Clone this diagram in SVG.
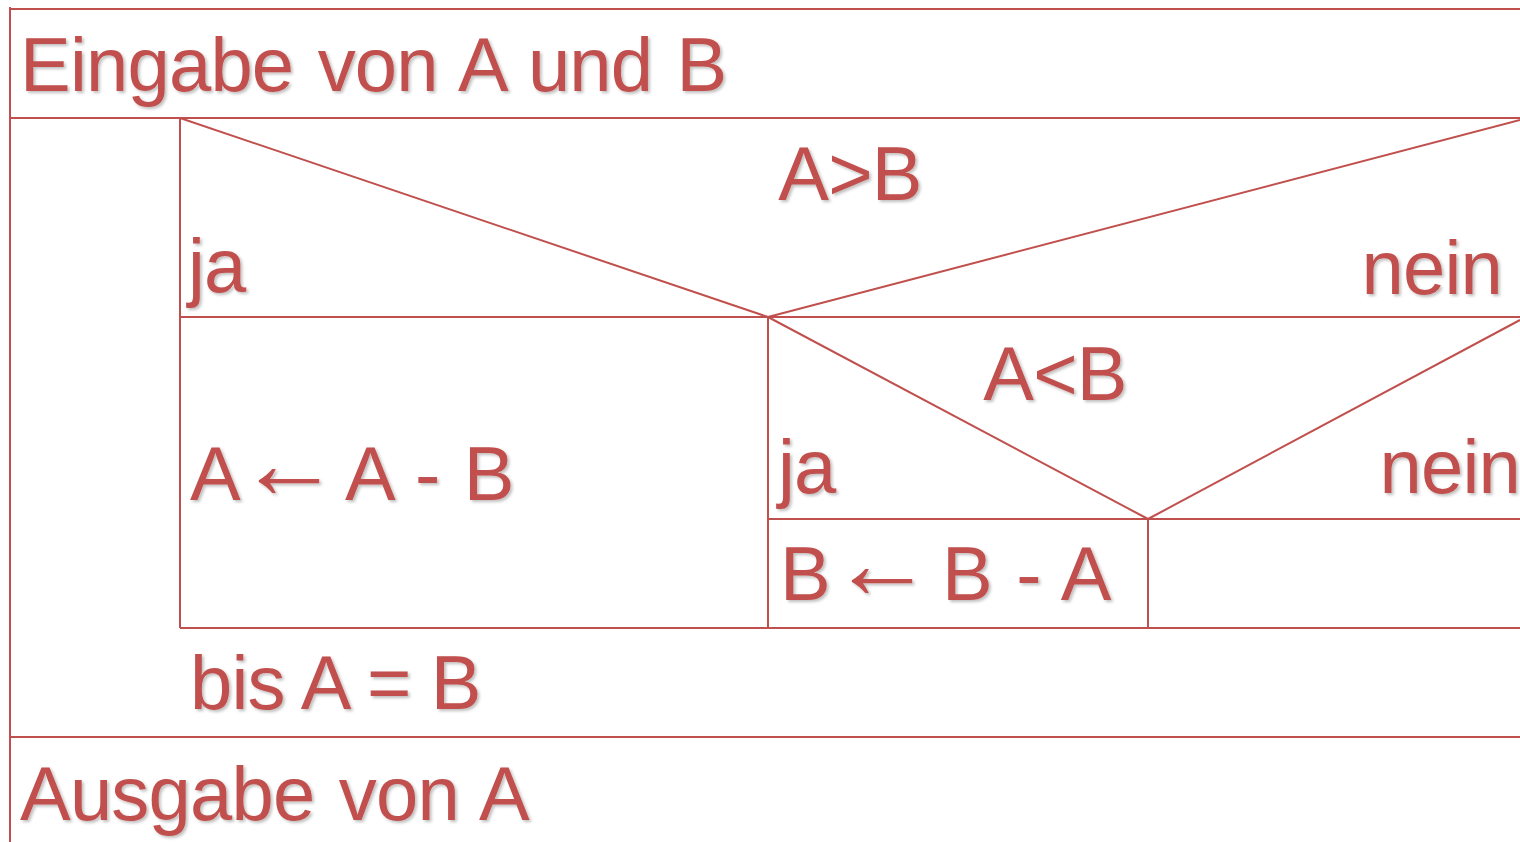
<svg xmlns="http://www.w3.org/2000/svg" width="1520" height="842" viewBox="0 0 1520 842">
<defs>
<filter id="sh" x="-5%" y="-20%" width="110%" height="140%">
<feDropShadow dx="2" dy="2" stdDeviation="1.5" flood-color="#000" flood-opacity="0.25"/>
</filter>
</defs>
<style>
.l{stroke:#C0504D;stroke-width:2;fill:none}
.t{font-family:"Liberation Sans",Arial,sans-serif;font-size:76px;fill:#C0504D;filter:url(#sh);letter-spacing:-0.8px;word-spacing:4px}
.ar{font-size:102px;letter-spacing:0}
.ws{word-spacing:0}
</style>
<rect width="1520" height="842" fill="#fff"/>
<g id="connectors">
<line class="l" x1="9" y1="9" x2="1520" y2="9"/>
<line class="l" x1="10" y1="7" x2="10" y2="842"/>
<line class="l" x1="9" y1="118" x2="1520" y2="118"/>
<line class="l" x1="180" y1="118" x2="180" y2="628"/>
<line class="l" x1="180" y1="118" x2="768" y2="317"/>
<line class="l" x1="768" y1="317" x2="1520" y2="120"/>
<line class="l" x1="180" y1="317" x2="1520" y2="317"/>
<line class="l" x1="768" y1="317" x2="768" y2="628"/>
<line class="l" x1="768" y1="317" x2="1148" y2="519"/>
<line class="l" x1="1148" y1="519" x2="1520" y2="320"/>
<line class="l" x1="768" y1="519" x2="1520" y2="519"/>
<line class="l" x1="1148" y1="519" x2="1148" y2="628"/>
<line class="l" x1="180" y1="628" x2="1520" y2="628"/>
<line class="l" x1="9" y1="737" x2="1520" y2="737"/>
</g>
<g id="input"><text class="t" x="20" y="91">Eingabe von A und B</text></g>
<g id="cond1">
<text class="t" x="850" y="200" text-anchor="middle">A&gt;B</text>
<text class="t" x="188" y="292">ja</text>
<text class="t" x="1502" y="294" text-anchor="end">nein</text>
</g>
<g id="stmt1"><text class="t" x="190" y="500">A<tspan class="ar" x="238" y="498">←</tspan><tspan x="345" y="500">A - B</tspan></text></g>
<g id="cond2">
<text class="t" x="1055" y="400" text-anchor="middle">A&lt;B</text>
<text class="t" x="778" y="493">ja</text>
<text class="t" x="1520" y="493" text-anchor="end">nein</text>
</g>
<g id="stmt2"><text class="t" x="780" y="600">B<tspan class="ar" x="831" y="598">←</tspan><tspan x="942" y="600">B - A</tspan></text></g>
<g id="loop"><text class="t ws" x="190" y="709">bis A = B</text></g>
<g id="output"><text class="t" x="20" y="820">Ausgabe von A</text></g>
</svg>
